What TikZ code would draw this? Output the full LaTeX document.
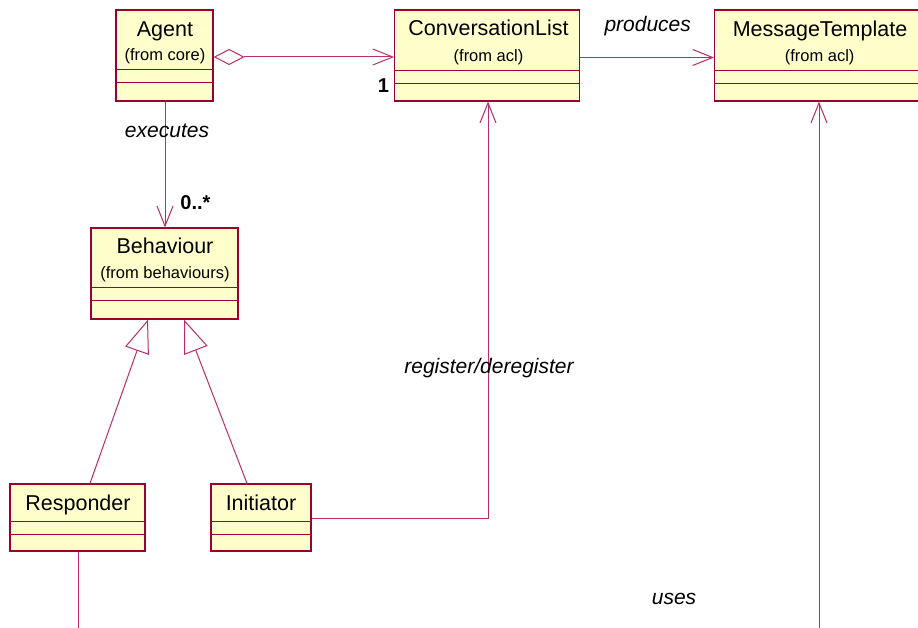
\documentclass[tikz,border=0pt]{standalone}
\usepackage{fontspec}
\setmainfont{Liberation Sans}
\usetikzlibrary{arrows.meta}
\definecolor{bord}{RGB}{153,0,51}
\definecolor{conn}{RGB}{185,45,105}
\definecolor{fillc}{RGB}{255,255,204}
\begin{document}
\begin{tikzpicture}[x=1pt,y=-1pt,
 cls/.style={draw=bord, fill=fillc, line width=1.2pt, inner sep=0pt, minimum height=91pt},
 small/.style={minimum height=67pt},
 dv/.style={draw=bord, line width=1pt},
 con/.style={draw=conn, line width=1pt},
 opena/.style={-{Straight Barb[length=20pt,width=16pt]}},
 gen/.style={-{Triangle[open,length=33pt,width=25pt,fill=white]}},
 nm/.style={font=\fontsize{21.5}{25}\selectfont, inner sep=0pt, anchor=base},
 fr/.style={font=\fontsize{16.5}{19}\selectfont, inner sep=0pt, anchor=base},
 lab/.style={font=\fontsize{21}{25}\selectfont\itshape, inner sep=0pt, anchor=base},
 mult/.style={font=\fontsize{20}{24}\selectfont\bfseries, inner sep=0pt, anchor=base}]
\path[use as bounding box, clip] (0,0) rectangle (918,628);
\fill[white] (0,0) rectangle (918,628);

% classes
\node[cls, minimum width=97pt] (agent) at (164.5,55.5) {};
\node[cls, minimum width=185pt] (cl) at (487.2,55.5) {};
\node[cls, minimum width=211.4pt] (mt) at (820.3,55.5) {};
\node[cls, minimum width=147pt] (beh) at (164.5,273.5) {};
\node[cls, small, minimum width=135pt] (resp) at (77.5,517.5) {};
\node[cls, small, minimum width=100pt] (init) at (261,517.5) {};

% compartments
\draw[dv] (agent.west |- 0,69.5) -- (agent.east |- 0,69.5);
\draw[dv] (agent.west |- 0,82.5) -- (agent.east |- 0,82.5);
\foreach \b in {cl,mt}{
  \draw[dv] (\b.west |- 0,71) -- (\b.east |- 0,71);
  \draw[dv] (\b.west |- 0,84) -- (\b.east |- 0,84);
}
\draw[dv] (beh.west |- 0,288) -- (beh.east |- 0,288);
\draw[dv] (beh.west |- 0,301) -- (beh.east |- 0,301);
\foreach \b in {resp,init}{
  \draw[dv] (\b.west |- 0,521) -- (\b.east |- 0,521);
  \draw[dv] (\b.west |- 0,534) -- (\b.east |- 0,534);
}

% names
\node[nm] (agentn) at (165,36.5) {Agent};
\node[fr] (agentf) at (165,60.5) {(from core)};
\node[nm] (cln) at (488.5,36) {ConversationList};
\node[fr] (clf) at (488.5,62) {(from acl)};
\node[nm] (mtn) at (820,36.5) {MessageTemplate};
\node[fr] (mtf) at (819.6,62) {(from acl)};
\node[nm] (behn) at (165,253.3) {Behaviour};
\node[fr] (behf) at (165,278.3) {(from behaviours)};
\node[nm] (respn) at (78,510) {Responder};
\node[nm] (initn) at (261,510) {Initiator};

% free ends
\coordinate (respend) at (78,640);
\coordinate (mtend) at (819,640);

% connectors
\draw[con, {Diamond[open,length=31pt,width=16pt,fill=white]}-{Straight Barb[length=20pt,width=16pt]}]
  (agent.east |- 0,57) -- (cl.west |- 0,57);
\draw[con, opena] (agent.south -| 165,0) -- (beh.north -| 165,0);
\draw[con, opena] (cl.east |- 0,57.5) -- (mt.west |- 0,57.5);
\draw[con, opena] (init.east |- 0,518) -| (cl.south -| 488,0);
\draw[con] (resp.south -| 78,0) -- (respend);
\draw[con, opena] (mtend) -- (mt.south -| 819,0);
\draw[con, gen] (resp.north -| 90,0) -- (beh.south -| 148,0);
\draw[con, gen] (init.north -| 247,0) -- (beh.south -| 184,0);

% labels
\node[mult] (one) at (383.5,92.3) {1};
\node[lab] (exe) at (167,138) {executes};
\node[mult] (many) at (195.5,210) {0..*};
\node[lab] (prod) at (647.7,31.5) {produces};
\node[lab] (reg) at (489,373.3) {register/deregister};
\node[lab] (uses) at (674,604.3) {uses};
\end{tikzpicture}
\end{document}
